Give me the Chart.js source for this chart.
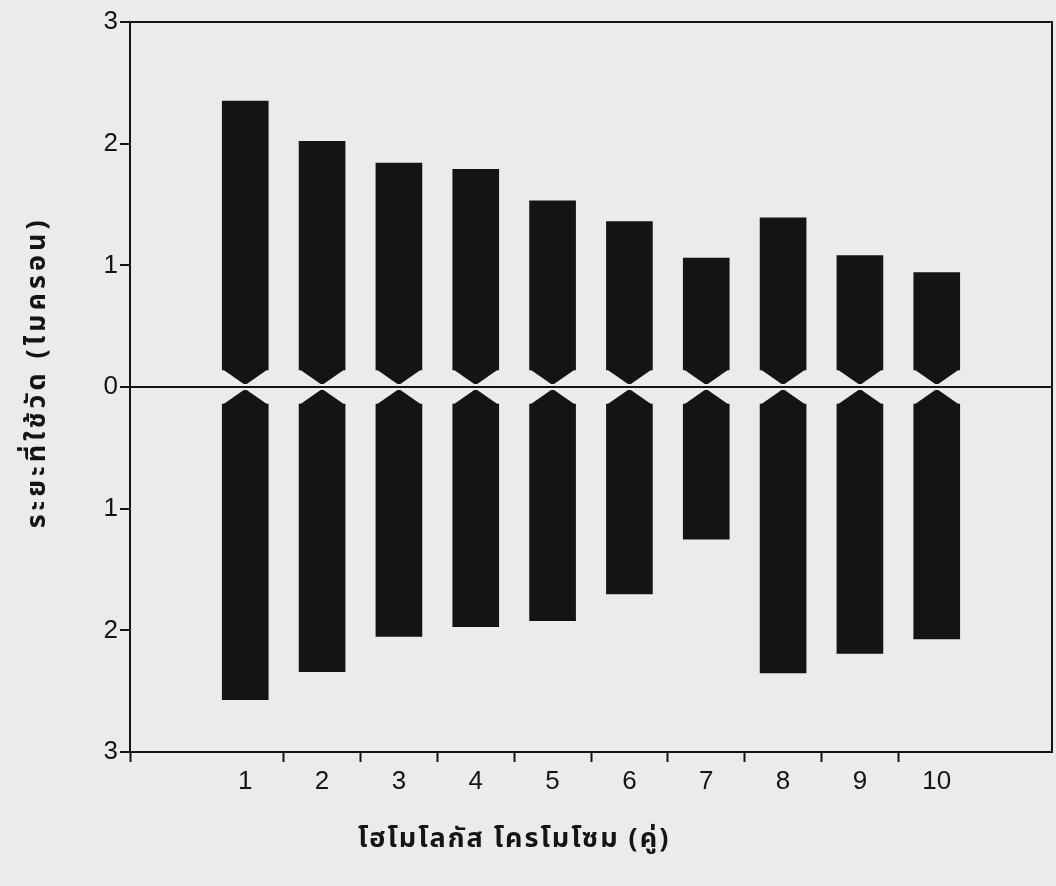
<!DOCTYPE html>
<html><head><meta charset="utf-8">
<script src="https://cdn.jsdelivr.net/npm/chart.js@4"></script>
<style>html,body{margin:0;padding:0;background:#ebebeb;} #wrap{width:1056px;height:886px;}</style>
</head><body><div id="wrap"><canvas id="c" width="1056" height="886"></canvas></div>
<script>
// ---- data ----
const chromosomes = [1, 2, 3, 4, 5, 6, 7, 8, 9, 10];
const shortArm = [2.35, 2.02, 1.84, 1.79, 1.53, 1.36, 1.06, 1.39, 1.08, 0.94];
const longArm  = [2.57, 2.34, 2.05, 1.97, 1.92, 1.70, 1.25, 2.35, 2.19, 2.07];
const yTickValues = [-3, -2, -1, 0, 1, 2, 3];
const xTitle = 'โฮโมโลกัส โครโมโซม (คู่)';
const yTitle = 'ระยะที่ใช้วัด (ไมครอน)';

// ---- styles ----
const INK = '#141414';
const BG = '#ebebeb';
const CEN_SHOULDER = 0.14;
const CEN_TIP = 0.025;
const THAI_FONT = "'Noto Sans Thai','Loma','Garuda','Norasi','Tlwg Typo','DejaVu Sans',sans-serif";
const TITLE_FONT = 'bold 27px ' + THAI_FONT;

const xTickValues = [-0.5];
chromosomes.forEach((c, i) => { xTickValues.push(c); if (i < chromosomes.length - 1) xTickValues.push((c + chromosomes[i + 1]) / 2); });

const tickVal = ctx => (ctx && ctx.tick) ? ctx.tick.value : null;

const bgPlugin = {
  id: 'bg',
  beforeDraw(chart) {
    const ctx = chart.ctx;
    ctx.save(); ctx.fillStyle = BG; ctx.fillRect(0, 0, chart.width, chart.height); ctx.restore();
  }
};

const notchPlugin = {
  id: 'notch',
  afterDatasetsDraw(chart) {
    const ctx = chart.ctx;
    const y = chart.scales.y;
    ctx.save();
    ctx.fillStyle = INK;
    [[0, CEN_SHOULDER, CEN_TIP], [1, -CEN_SHOULDER, -CEN_TIP]].forEach(([di, sh, tip]) => {
      chart.getDatasetMeta(di).data.forEach(bar => {
        const p = bar.getProps(['x', 'width'], true);
        const ys = y.getPixelForValue(sh), yt = y.getPixelForValue(tip);
        ctx.beginPath();
        ctx.moveTo(p.x - p.width / 2, ys + (sh > 0 ? -1 : 1));
        ctx.lineTo(p.x + p.width / 2, ys + (sh > 0 ? -1 : 1));
        ctx.lineTo(p.x + 1.5, yt);
        ctx.lineTo(p.x - 1.5, yt);
        ctx.closePath();
        ctx.fill();
      });
    });
    ctx.restore();
  }
};

const framePlugin = {
  id: 'frame',
  afterDraw(chart) {
    const {ctx, chartArea: a} = chart;
    ctx.save();
    ctx.strokeStyle = INK; ctx.lineWidth = 2;
    ctx.beginPath();
    ctx.moveTo(a.left, a.top); ctx.lineTo(a.right, a.top); ctx.lineTo(a.right, a.bottom);
    ctx.stroke();
    // axis titles
    ctx.fillStyle = INK;
    ctx.font = TITLE_FONT;
    ctx.textAlign = 'center';
    ctx.textBaseline = 'middle';
    ctx.letterSpacing = '2px';
    ctx.fillText(xTitle, chart.scales.x.getPixelForValue(4.5), 842);
    ctx.letterSpacing = '4px';
    ctx.translate(40, chart.scales.y.getPixelForValue(0.12));
    ctx.rotate(-Math.PI / 2);
    ctx.fillText(yTitle, 0, 0);
    ctx.restore();
  }
};

new Chart(document.getElementById('c'), {
  type: 'bar',
  data: {
    datasets: [
      {
        data: chromosomes.map((c, i) => ({x: c, y: [CEN_SHOULDER, shortArm[i]]})),
        backgroundColor: INK, barThickness: 46, borderWidth: 0
      },
      {
        data: chromosomes.map((c, i) => ({x: c, y: [-longArm[i], -CEN_SHOULDER]})),
        backgroundColor: INK, barThickness: 46, borderWidth: 0
      }
    ]
  },
  options: {
    responsive: false,
    animation: false,
    layout: {padding: {top: 22, right: 4, left: 0, bottom: 0}},
    plugins: {legend: {display: false}, tooltip: {enabled: false}},
    scales: {
      x: {
        type: 'linear', min: -0.5, max: 11.5, offset: false, stacked: true,
        afterBuildTicks: s => { s.ticks = xTickValues.map(v => ({value: v})); },
        afterFit: s => { s.height = 134; },
        ticks: {
          autoSkip: false, maxRotation: 0, minRotation: 0, padding: 4,
          callback: v => Number.isInteger(v) && v > 0 ? String(v) : '',
          font: {family: "'Liberation Sans', Arial, sans-serif", size: 26}, color: INK
        },
        grid: {
          offset: false, drawOnChartArea: false, tickLength: 10, tickWidth: 2,
          tickColor: ctx => { const v = tickVal(ctx); return (v === null || Number.isInteger(v)) ? 'rgba(0,0,0,0)' : INK; }
        },
        border: {color: INK, width: 2}
      },
      y: {
        min: -3, max: 3, stacked: false,
        afterBuildTicks: s => { s.ticks = yTickValues.map(v => ({value: v})); },
        afterFit: s => { s.width = 130; },
        ticks: {
          padding: 2, callback: v => String(Math.abs(v)),
          font: {family: "'Liberation Sans', Arial, sans-serif", size: 26}, color: INK
        },
        grid: {
          color: ctx => tickVal(ctx) === 0 ? INK : 'rgba(0,0,0,0)',
          lineWidth: 2, tickLength: 10, tickColor: INK, tickWidth: 2
        },
        border: {color: INK, width: 2}
      }
    }
  },
  plugins: [bgPlugin, notchPlugin, framePlugin]
});
</script>
</body></html>
